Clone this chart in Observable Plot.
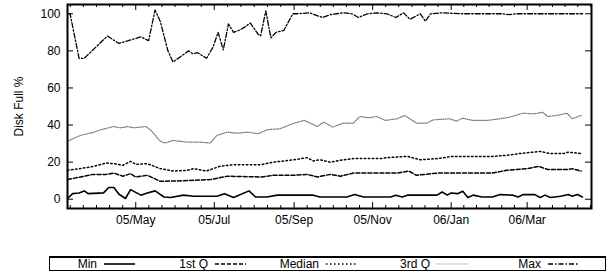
<!DOCTYPE html>
<html><head><meta charset="utf-8">
<script src="https://cdn.jsdelivr.net/npm/d3@7"></script>
<script src="https://cdn.jsdelivr.net/npm/@observablehq/plot@0.6"></script>
<style>
body{margin:0;background:#fff;font-family:"Liberation Sans",Arial,sans-serif;}
#wrap{position:relative;width:609px;height:275px;}
#legend{position:absolute;left:49px;top:256px;width:557px;height:15px;border:1px solid #000;border-top-width:2px;box-sizing:border-box;display:flex;font-size:12px;line-height:12px;}
#legend .item{width:111.4px;display:flex;justify-content:flex-end;align-items:center;padding-right:26px;box-sizing:border-box;}
#legend svg{margin-left:7px;}
</style></head><body><div id="wrap"><div id="chart"></div><div id="legend"></div></div>
<script>
// ---- data ----
const seriesNames = ["Min", "1st Q", "Median", "3rd Q", "Max"];
const yTicks = [0, 20, 40, 60, 80, 100];
const xStart = "2005-03-09", xEnd = "2006-04-20";
const tickFormat = "%y/%b";

const minDates = ["2005-03-09","2005-03-13","2005-03-18","2005-03-22","2005-03-25","2005-04-06","2005-04-10","2005-04-14","2005-04-18","2005-04-23","2005-04-27","2005-05-05","2005-05-10","2005-05-16","2005-05-23","2005-05-28","2005-06-07","2005-06-15","2005-07-03","2005-07-09","2005-07-16","2005-07-28","2005-08-02","2005-08-11","2005-08-19","2005-09-16","2005-09-21","2005-10-12","2005-10-18","2005-10-25","2005-11-15","2005-11-19","2005-11-24","2005-11-28","2005-12-21","2005-12-25","2005-12-29","2006-01-01","2006-01-06","2006-01-10","2006-01-14","2006-01-18","2006-01-25","2006-02-02","2006-02-08","2006-02-18","2006-02-22","2006-02-26","2006-03-07","2006-03-11","2006-03-15","2006-03-19","2006-03-27","2006-04-02","2006-04-05","2006-04-09","2006-04-13"];
const minValues = [0.4,3,3.4,4.5,3,3.4,6.3,6.3,2.7,0.4,5.2,2.2,3.4,4.5,1.2,0.9,2.2,1.6,1.6,3,0.9,4.5,1.2,1.2,2.2,2.2,1.2,1.2,2.5,1.2,1.2,2.2,1.2,2.2,2.2,3.9,2.2,3.4,3,4.3,0.9,2.2,1.2,1.2,2.5,2.2,1.2,2.5,2.5,0.9,2.2,0.9,1.6,2.5,1.6,2.5,1.2];

const q1Dates = ["2005-03-09","2005-03-19","2005-03-29","2005-04-08","2005-04-14","2005-04-21","2005-04-27","2005-05-01","2005-05-10","2005-05-20","2005-05-30","2005-06-15","2005-06-28","2005-07-11","2005-08-06","2005-08-16","2005-09-01","2005-09-11","2005-09-19","2005-09-29","2005-10-07","2005-10-17","2005-11-20","2005-11-29","2005-12-05","2005-12-21","2006-01-02","2006-02-02","2006-02-13","2006-03-01","2006-03-10","2006-03-17","2006-04-01","2006-04-05","2006-04-12"];
const q1Values = [10.6,12,13.4,13.4,14.1,12.4,13.8,12,12.9,9.7,9.8,10.2,10.6,12.4,12,12.9,12.9,13.4,12,13.4,12.4,14.1,14.1,15.2,12.9,14.1,14.1,14.1,15.6,16.5,17.7,16,16,16.5,15.2];

const medDates = ["2005-03-09","2005-03-19","2005-03-29","2005-04-08","2005-04-14","2005-04-21","2005-04-27","2005-05-01","2005-05-10","2005-05-20","2005-05-30","2005-06-10","2005-06-15","2005-06-25","2005-07-05","2005-07-16","2005-08-06","2005-08-16","2005-09-01","2005-09-11","2005-09-16","2005-09-21","2005-09-29","2005-10-07","2005-10-17","2005-11-07","2005-11-12","2005-11-28","2005-12-08","2005-12-21","2006-01-02","2006-01-15","2006-02-02","2006-02-13","2006-02-23","2006-03-11","2006-03-19","2006-03-29","2006-04-02","2006-04-12"];
const medValues = [15.6,16.5,17.7,19.5,19.2,18.3,20.4,18.8,19.2,16.5,15.2,15.6,16.5,15.2,17.7,18.6,18.6,20,21.3,22.4,20.6,21.3,20,21,21.9,21.9,22.4,23.1,21.3,21.9,23.1,23.1,23.1,23.7,24.6,25.8,24.6,24.6,25.4,24.6];

const q3Dates = ["2005-03-09","2005-03-19","2005-03-29","2005-04-04","2005-04-14","2005-04-19","2005-04-25","2005-04-29","2005-05-09","2005-05-13","2005-05-20","2005-05-24","2005-05-30","2005-06-10","2005-06-20","2005-06-28","2005-07-03","2005-07-11","2005-07-19","2005-07-27","2005-08-04","2005-08-11","2005-08-21","2005-09-01","2005-09-09","2005-09-19","2005-09-24","2005-10-01","2005-10-09","2005-10-17","2005-10-22","2005-10-29","2005-11-04","2005-11-11","2005-11-20","2005-11-26","2005-12-05","2005-12-13","2005-12-18","2005-12-31","2006-01-05","2006-01-10","2006-01-18","2006-01-29","2006-02-08","2006-02-15","2006-02-26","2006-03-06","2006-03-13","2006-03-17","2006-03-24","2006-04-01","2006-04-05","2006-04-12"];
const q3Values = [31.3,34.4,36,37.5,39.2,38.5,39.2,38.5,39.2,37,31.3,30.3,31.7,30.8,30.8,30.3,34.4,36.2,35.6,36.2,35.3,37.5,38,41,42.5,39.2,41.6,38.9,41,41,44.6,43.9,44.6,42.5,43.4,45.2,41,41,42.8,43.4,42.1,43.7,42.5,42.5,43.4,44.2,46.4,46,46.9,44.6,45.2,46.4,43.4,45.2];

const maxDates = ["2005-03-10","2005-03-11","2005-03-18","2005-03-22","2005-04-09","2005-04-18","2005-05-05","2005-05-11","2005-05-16","2005-05-20","2005-05-26","2005-05-30","2005-06-11","2005-06-14","2005-06-18","2005-06-25","2005-06-30","2005-07-04","2005-07-08","2005-07-12","2005-07-16","2005-07-20","2005-07-24","2005-07-29","2005-08-04","2005-08-06","2005-08-10","2005-08-14","2005-08-18","2005-08-24","2005-08-31","2005-09-03","2005-09-13","2005-09-23","2005-09-29","2005-10-09","2005-10-16","2005-10-21","2005-10-28","2005-11-04","2005-11-12","2005-11-19","2005-11-25","2005-11-30","2005-12-08","2005-12-12","2005-12-16","2005-12-24","2006-01-10","2006-02-10","2006-02-15","2006-02-20","2006-03-15","2006-04-13"];
const maxValues = [100,100,76,76,88,84,87.5,85.5,102,96,80,74,80,78.5,79,76,82,90,80.5,94.5,90,91,92.5,95,89,88,101.5,87,90,91,100,100,100.5,98,99.5,100.5,100,98,100,100.5,100,98,100.5,97,100,96,100,100.5,100,100,99.5,100,100,100];

// ---- styles ----
const styles = [
  {stroke:"#000", strokeWidth:1.6, strokeDasharray:null},
  {stroke:"#000", strokeWidth:1.5, strokeDasharray:"4,2"},
  {stroke:"#000", strokeWidth:1.5, strokeDasharray:"1.5,2.5"},
  {stroke:"#777", strokeWidth:1.2, strokeDasharray:"1,1.3"},
  {stroke:"#000", strokeWidth:1.3, strokeDasharray:"5,2,1.5,2"}
];

const parse = d3.utcParse("%Y-%m-%d");
const series = (dates, values) => dates.map((d, i) => ({date: parse(d), value: values[i]}));
const allSeries = [
  series(minDates, minValues), series(q1Dates, q1Values), series(medDates, medValues),
  series(q3Dates, q3Values), series(maxDates, maxValues)
];

const W = 609, H = 250, mL = 67, mR = 18, mT = 4, mB = 42;
const iw = W - mL - mR, ih = H - mT - mB;
const xDomain = [parse(xStart), parse(xEnd)];
const majors = d3.utcMonth.every(2).range(xDomain[0], xDomain[1]);
const minors = [];
for (let i = 0; i < majors.length - 1; i++) {
  const a = +majors[i], b = +majors[i + 1];
  for (let k = 1; k < 6; k++) minors.push(new Date(a + (b - a) * k / 6));
}
const s0 = (majors[1] - majors[0]) / 6;
for (let t = +majors[0] - s0; t >= +xDomain[0]; t -= s0) minors.push(new Date(t));
const n = majors.length;
const sN = (majors[n - 1] - majors[n - 2]) / 6;
for (let t = +majors[n - 1] + sN; t <= +xDomain[1]; t += sN) minors.push(new Date(t));

const chart = Plot.plot({
  width: W, height: H, marginLeft: mL, marginRight: mR, marginTop: mT, marginBottom: mB,
  style: {fontFamily: "Liberation Sans, Arial, sans-serif", fontSize: "12px", color: "#000", background: "#fff"},
  x: {type: "utc", domain: xDomain},
  y: {domain: [-5, 105]},
  marks: [
    Plot.tickX(majors, {x: d => d, insetTop: ih - 6, stroke: "#000"}),
    Plot.tickX(majors, {x: d => d, insetBottom: ih - 6, stroke: "#000"}),
    Plot.tickX(minors, {x: d => d, insetTop: ih - 3, stroke: "#000"}),
    Plot.tickX(minors, {x: d => d, insetBottom: ih - 3, stroke: "#000"}),
    Plot.tickY(yTicks, {y: d => d, insetRight: iw - 6, stroke: "#000"}),
    Plot.tickY(yTicks, {y: d => d, insetLeft: iw - 6, stroke: "#000"}),
    Plot.axisX({ticks: majors, tickSize: 0, tickPadding: 7, tickFormat: d3.utcFormat(tickFormat), label: null}),
    Plot.axisY({ticks: yTicks, tickSize: 0, tickPadding: 7, label: "Disk Full %", labelAnchor: "center", labelOffset: 53, labelArrow: "none"}),
    ...allSeries.map((s, i) => Plot.line(s, {x: "date", y: "value", ...styles[i]})),
    Plot.frame({stroke: "#000", strokeWidth: 2})
  ]
});
document.getElementById("chart").appendChild(chart);

const legend = document.getElementById("legend");
seriesNames.forEach((name, i) => {
  const item = document.createElement("div");
  item.className = "item";
  const label = document.createElement("span");
  label.textContent = name;
  item.appendChild(label);
  const svg = d3.create("svg").attr("width", 31).attr("height", 8);
  const st = styles[i];
  svg.append("line").attr("x1", 0).attr("x2", 31).attr("y1", 4).attr("y2", 4)
    .attr("stroke", st.stroke).attr("stroke-width", st.strokeWidth)
    .attr("stroke-dasharray", st.strokeDasharray);
  item.appendChild(svg.node());
  legend.appendChild(item);
});
</script>
</body></html>
